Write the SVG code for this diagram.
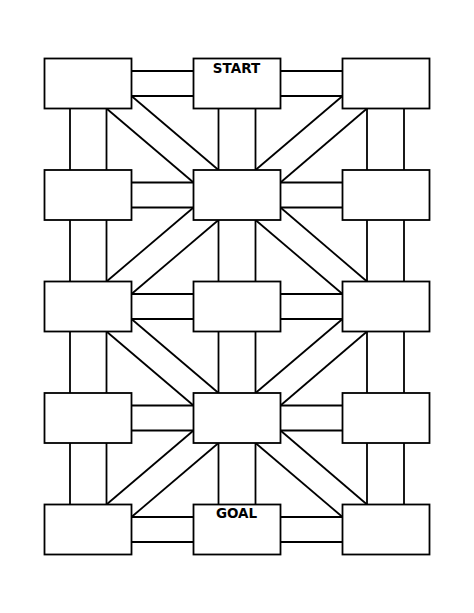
<svg xmlns="http://www.w3.org/2000/svg" width="474" height="613" viewBox="0 0 474 613">
<style>
.road line{stroke:#000;stroke-width:1.8;fill:none}
.box{fill:#fff;stroke:#000;stroke-width:1.8}
.lbl{font-family:"DejaVu Sans",sans-serif;font-weight:bold;font-size:13.5px;text-anchor:middle;fill:#000}
</style>
<rect width="474" height="613" fill="#fff"/>
<g id="connectors" class="road">
<!-- horizontal roads -->
<line x1="131.5" y1="71" x2="193.5" y2="71"/><line x1="131.5" y1="96" x2="193.5" y2="96"/>
<line x1="280.5" y1="71" x2="342.5" y2="71"/><line x1="280.5" y1="96" x2="342.5" y2="96"/>
<line x1="131.5" y1="182.5" x2="193.5" y2="182.5"/><line x1="131.5" y1="207.5" x2="193.5" y2="207.5"/>
<line x1="280.5" y1="182.5" x2="342.5" y2="182.5"/><line x1="280.5" y1="207.5" x2="342.5" y2="207.5"/>
<line x1="131.5" y1="294" x2="193.5" y2="294"/><line x1="131.5" y1="319" x2="193.5" y2="319"/>
<line x1="280.5" y1="294" x2="342.5" y2="294"/><line x1="280.5" y1="319" x2="342.5" y2="319"/>
<line x1="131.5" y1="405.5" x2="193.5" y2="405.5"/><line x1="131.5" y1="430.5" x2="193.5" y2="430.5"/>
<line x1="280.5" y1="405.5" x2="342.5" y2="405.5"/><line x1="280.5" y1="430.5" x2="342.5" y2="430.5"/>
<line x1="131.5" y1="517" x2="193.5" y2="517"/><line x1="131.5" y1="542" x2="193.5" y2="542"/>
<line x1="280.5" y1="517" x2="342.5" y2="517"/><line x1="280.5" y1="542" x2="342.5" y2="542"/>
<!-- vertical roads -->
<line x1="70" y1="108.5" x2="70" y2="170"/><line x1="106.5" y1="108.5" x2="106.5" y2="170"/>
<line x1="218.5" y1="108.5" x2="218.5" y2="170"/><line x1="255.5" y1="108.5" x2="255.5" y2="170"/>
<line x1="367" y1="108.5" x2="367" y2="170"/><line x1="404" y1="108.5" x2="404" y2="170"/>
<line x1="70" y1="220" x2="70" y2="281.5"/><line x1="106.5" y1="220" x2="106.5" y2="281.5"/>
<line x1="218.5" y1="220" x2="218.5" y2="281.5"/><line x1="255.5" y1="220" x2="255.5" y2="281.5"/>
<line x1="367" y1="220" x2="367" y2="281.5"/><line x1="404" y1="220" x2="404" y2="281.5"/>
<line x1="70" y1="331.5" x2="70" y2="393"/><line x1="106.5" y1="331.5" x2="106.5" y2="393"/>
<line x1="218.5" y1="331.5" x2="218.5" y2="393"/><line x1="255.5" y1="331.5" x2="255.5" y2="393"/>
<line x1="367" y1="331.5" x2="367" y2="393"/><line x1="404" y1="331.5" x2="404" y2="393"/>
<line x1="70" y1="443" x2="70" y2="504.5"/><line x1="106.5" y1="443" x2="106.5" y2="504.5"/>
<line x1="218.5" y1="443" x2="218.5" y2="504.5"/><line x1="255.5" y1="443" x2="255.5" y2="504.5"/>
<line x1="367" y1="443" x2="367" y2="504.5"/><line x1="404" y1="443" x2="404" y2="504.5"/>
<!-- diagonal roads -->
<line x1="131.5" y1="96" x2="218.5" y2="170"/><line x1="106.5" y1="108.5" x2="193.5" y2="182.5"/>
<line x1="342.5" y1="96" x2="255.5" y2="170"/><line x1="367" y1="108.5" x2="280.5" y2="182.5"/>
<line x1="193.5" y1="207.5" x2="106.5" y2="281.5"/><line x1="218.5" y1="220" x2="131.5" y2="294"/>
<line x1="280.5" y1="207.5" x2="367" y2="281.5"/><line x1="255.5" y1="220" x2="342.5" y2="294"/>
<line x1="131.5" y1="319" x2="218.5" y2="393"/><line x1="106.5" y1="331.5" x2="193.5" y2="405.5"/>
<line x1="342.5" y1="319" x2="255.5" y2="393"/><line x1="367" y1="331.5" x2="280.5" y2="405.5"/>
<line x1="193.5" y1="430.5" x2="106.5" y2="504.5"/><line x1="218.5" y1="443" x2="131.5" y2="517"/>
<line x1="280.5" y1="430.5" x2="367" y2="504.5"/><line x1="255.5" y1="443" x2="342.5" y2="517"/>
</g>
<g id="n1-l"><rect class="box" x="44.5" y="58.5" width="87" height="50"/></g>
<g id="n1-c"><rect class="box" x="193.5" y="58.5" width="87" height="50"/><text class="lbl" x="236.5" y="73.3">START</text></g>
<g id="n1-r"><rect class="box" x="342.5" y="58.5" width="87" height="50"/></g>
<g id="n2-l"><rect class="box" x="44.5" y="170" width="87" height="50"/></g>
<g id="n2-c"><rect class="box" x="193.5" y="170" width="87" height="50"/></g>
<g id="n2-r"><rect class="box" x="342.5" y="170" width="87" height="50"/></g>
<g id="n3-l"><rect class="box" x="44.5" y="281.5" width="87" height="50"/></g>
<g id="n3-c"><rect class="box" x="193.5" y="281.5" width="87" height="50"/></g>
<g id="n3-r"><rect class="box" x="342.5" y="281.5" width="87" height="50"/></g>
<g id="n4-l"><rect class="box" x="44.5" y="393" width="87" height="50"/></g>
<g id="n4-c"><rect class="box" x="193.5" y="393" width="87" height="50"/></g>
<g id="n4-r"><rect class="box" x="342.5" y="393" width="87" height="50"/></g>
<g id="n5-l"><rect class="box" x="44.5" y="504.5" width="87" height="50"/></g>
<g id="n5-c"><rect class="box" x="193.5" y="504.5" width="87" height="50"/><text class="lbl" x="236.5" y="517.5">GOAL</text></g>
<g id="n5-r"><rect class="box" x="342.5" y="504.5" width="87" height="50"/></g>
</svg>
